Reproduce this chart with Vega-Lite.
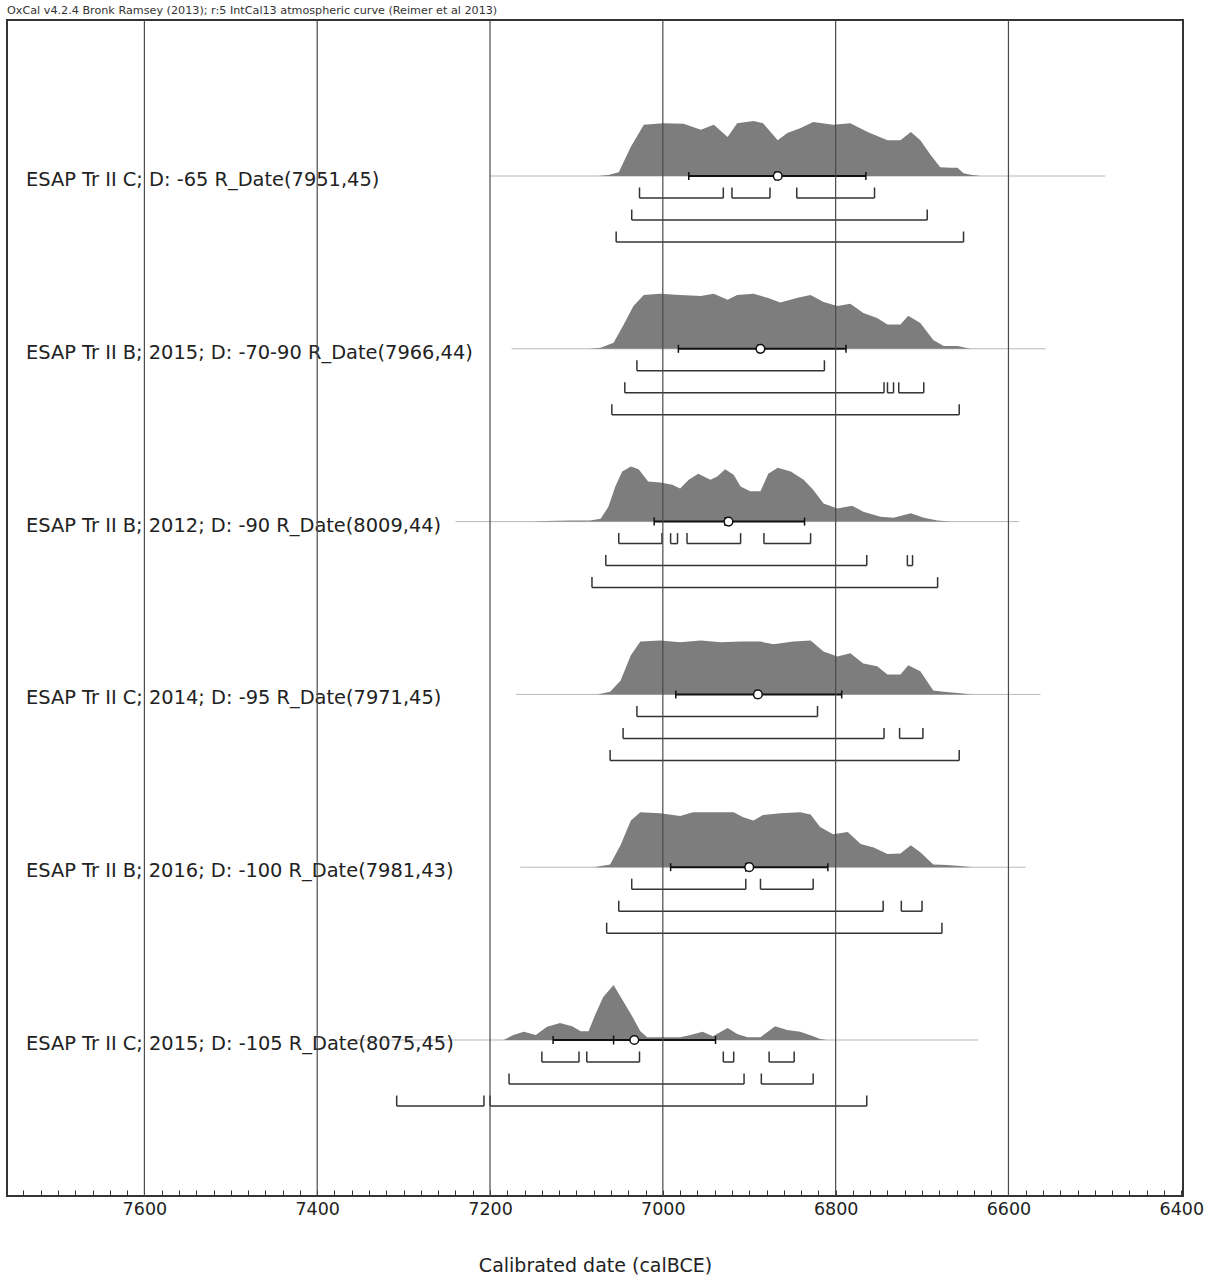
{
  "$schema": "https://vega.github.io/schema/vega-lite/v6.json",
  "width": 1176,
  "height": 1176,
  "autosize": {"type": "none"},
  "padding": {"left": 7, "top": 20, "right": 36, "bottom": 84},
  "background": "white",
  "title": {"text": "OxCal v4.2.4 Bronk Ramsey (2013); r:5 IntCal13 atmospheric curve (Reimer et al 2013)", "anchor": "start", "frame": "group", "font": "DejaVu Sans", "fontSize": 11.2, "fontWeight": "normal", "color": "#333", "offset": -8, "baseline": "bottom"},
  "config": {
    "view": {"stroke": "#333", "strokeWidth": 2},
    "font": "DejaVu Sans",
    "axisX": {"labelFont": "DejaVu Sans", "labelFontSize": 17.5, "labelColor": "#222", "labelBaseline": "top", "labelPadding": 10, "tickSize": -6, "tickColor": "#333", "tickWidth": 1, "domain": false, "grid": false, "titleFont": "DejaVu Sans", "titleFontSize": 19, "titleFontWeight": "normal", "titleColor": "#222", "titlePadding": 39, "labelOverlap": false, "labelBound": false, "labelFlush": false}
  },
  "datasets": {
    "grid": [{"year": 7600}, {"year": 7400}, {"year": 7200}, {"year": 7000}, {"year": 6800}, {"year": 6600}],
    "meta": [
      {"row": 1, "label": "ESAP Tr II C; D: -65 R_Date(7951,45)", "base_lo": 7200, "base_hi": 6488, "sig_lo": 6970, "sig_hi": 6765, "mean": 6867, "median": 6870},
      {"row": 2, "label": "ESAP Tr II B; 2015; D: -70-90 R_Date(7966,44)", "base_lo": 7175, "base_hi": 6557, "sig_lo": 6982, "sig_hi": 6788, "mean": 6887, "median": 6890},
      {"row": 3, "label": "ESAP Tr II B; 2012; D: -90 R_Date(8009,44)", "base_lo": 7240, "base_hi": 6588, "sig_lo": 7010, "sig_hi": 6836, "mean": 6924, "median": 6928},
      {"row": 4, "label": "ESAP Tr II C; 2014; D: -95 R_Date(7971,45)", "base_lo": 7170, "base_hi": 6563, "sig_lo": 6985, "sig_hi": 6793, "mean": 6890, "median": 6893},
      {"row": 5, "label": "ESAP Tr II B; 2016; D: -100 R_Date(7981,43)", "base_lo": 7165, "base_hi": 6580, "sig_lo": 6991, "sig_hi": 6809, "mean": 6900, "median": 6904},
      {"row": 6, "label": "ESAP Tr II C; 2015; D: -105 R_Date(8075,45)", "base_lo": 7360, "base_hi": 6635, "sig_lo": 7127, "sig_hi": 6939, "mean": 7033, "median": 7057}
    ],
    "ranges": [
      {"row": 1, "level": 1, "start": 7027, "end": 6930},
      {"row": 1, "level": 1, "start": 6920, "end": 6876},
      {"row": 1, "level": 1, "start": 6845, "end": 6755},
      {"row": 1, "level": 2, "start": 7036, "end": 6694},
      {"row": 1, "level": 3, "start": 7054, "end": 6652},
      {"row": 2, "level": 1, "start": 7030, "end": 6813},
      {"row": 2, "level": 2, "start": 7044, "end": 6744},
      {"row": 2, "level": 2, "start": 6740, "end": 6733},
      {"row": 2, "level": 2, "start": 6727, "end": 6698},
      {"row": 2, "level": 3, "start": 7059, "end": 6657},
      {"row": 3, "level": 1, "start": 7051, "end": 7001},
      {"row": 3, "level": 1, "start": 6991, "end": 6983},
      {"row": 3, "level": 1, "start": 6972, "end": 6910},
      {"row": 3, "level": 1, "start": 6883, "end": 6829},
      {"row": 3, "level": 2, "start": 7066, "end": 6764},
      {"row": 3, "level": 2, "start": 6717, "end": 6711},
      {"row": 3, "level": 3, "start": 7082, "end": 6682},
      {"row": 4, "level": 1, "start": 7030, "end": 6821},
      {"row": 4, "level": 2, "start": 7046, "end": 6744},
      {"row": 4, "level": 2, "start": 6726, "end": 6699},
      {"row": 4, "level": 3, "start": 7061, "end": 6657},
      {"row": 5, "level": 1, "start": 7036, "end": 6904},
      {"row": 5, "level": 1, "start": 6887, "end": 6826},
      {"row": 5, "level": 2, "start": 7051, "end": 6745},
      {"row": 5, "level": 2, "start": 6724, "end": 6700},
      {"row": 5, "level": 3, "start": 7065, "end": 6677},
      {"row": 6, "level": 1, "start": 7140, "end": 7097},
      {"row": 6, "level": 1, "start": 7088, "end": 7027},
      {"row": 6, "level": 1, "start": 6930, "end": 6918},
      {"row": 6, "level": 1, "start": 6877, "end": 6848},
      {"row": 6, "level": 2, "start": 7178, "end": 6906},
      {"row": 6, "level": 2, "start": 6886, "end": 6826},
      {"row": 6, "level": 3, "start": 7308, "end": 7207},
      {"row": 6, "level": 3, "start": 7200, "end": 6764}
    ],
    "dist": [
      {"row": 1, "year": 7075, "p": 0}, {"row": 1, "year": 7063, "p": 2}, {"row": 1, "year": 7051, "p": 7}, {"row": 1, "year": 7037, "p": 53}, {"row": 1, "year": 7022, "p": 93}, {"row": 1, "year": 7000, "p": 96}, {"row": 1, "year": 6976, "p": 95}, {"row": 1, "year": 6956, "p": 84}, {"row": 1, "year": 6941, "p": 93}, {"row": 1, "year": 6925, "p": 71}, {"row": 1, "year": 6914, "p": 96}, {"row": 1, "year": 6895, "p": 100}, {"row": 1, "year": 6884, "p": 96}, {"row": 1, "year": 6867, "p": 65}, {"row": 1, "year": 6856, "p": 78}, {"row": 1, "year": 6841, "p": 87}, {"row": 1, "year": 6826, "p": 98}, {"row": 1, "year": 6803, "p": 93}, {"row": 1, "year": 6783, "p": 96}, {"row": 1, "year": 6763, "p": 80}, {"row": 1, "year": 6740, "p": 65}, {"row": 1, "year": 6725, "p": 65}, {"row": 1, "year": 6713, "p": 80}, {"row": 1, "year": 6702, "p": 65}, {"row": 1, "year": 6690, "p": 38}, {"row": 1, "year": 6679, "p": 16}, {"row": 1, "year": 6667, "p": 15}, {"row": 1, "year": 6659, "p": 15}, {"row": 1, "year": 6652, "p": 5}, {"row": 1, "year": 6642, "p": 2}, {"row": 1, "year": 6632, "p": 0},
      {"row": 2, "year": 7085, "p": 0}, {"row": 2, "year": 7072, "p": 2}, {"row": 2, "year": 7057, "p": 11}, {"row": 2, "year": 7046, "p": 42}, {"row": 2, "year": 7034, "p": 78}, {"row": 2, "year": 7022, "p": 98}, {"row": 2, "year": 7003, "p": 100}, {"row": 2, "year": 6980, "p": 98}, {"row": 2, "year": 6956, "p": 96}, {"row": 2, "year": 6941, "p": 100}, {"row": 2, "year": 6925, "p": 89}, {"row": 2, "year": 6914, "p": 98}, {"row": 2, "year": 6895, "p": 100}, {"row": 2, "year": 6879, "p": 93}, {"row": 2, "year": 6864, "p": 84}, {"row": 2, "year": 6844, "p": 93}, {"row": 2, "year": 6829, "p": 98}, {"row": 2, "year": 6814, "p": 85}, {"row": 2, "year": 6798, "p": 78}, {"row": 2, "year": 6783, "p": 82}, {"row": 2, "year": 6768, "p": 65}, {"row": 2, "year": 6752, "p": 56}, {"row": 2, "year": 6740, "p": 44}, {"row": 2, "year": 6725, "p": 44}, {"row": 2, "year": 6716, "p": 60}, {"row": 2, "year": 6702, "p": 47}, {"row": 2, "year": 6687, "p": 16}, {"row": 2, "year": 6675, "p": 5}, {"row": 2, "year": 6659, "p": 5}, {"row": 2, "year": 6644, "p": 0},
      {"row": 3, "year": 7150, "p": 0}, {"row": 3, "year": 7136, "p": 1}, {"row": 3, "year": 7107, "p": 2}, {"row": 3, "year": 7084, "p": 2}, {"row": 3, "year": 7072, "p": 5}, {"row": 3, "year": 7063, "p": 27}, {"row": 3, "year": 7055, "p": 64}, {"row": 3, "year": 7047, "p": 91}, {"row": 3, "year": 7037, "p": 100}, {"row": 3, "year": 7028, "p": 95}, {"row": 3, "year": 7017, "p": 73}, {"row": 3, "year": 7003, "p": 71}, {"row": 3, "year": 6989, "p": 67}, {"row": 3, "year": 6980, "p": 60}, {"row": 3, "year": 6970, "p": 76}, {"row": 3, "year": 6959, "p": 87}, {"row": 3, "year": 6945, "p": 76}, {"row": 3, "year": 6937, "p": 82}, {"row": 3, "year": 6928, "p": 95}, {"row": 3, "year": 6918, "p": 85}, {"row": 3, "year": 6910, "p": 64}, {"row": 3, "year": 6899, "p": 55}, {"row": 3, "year": 6887, "p": 55}, {"row": 3, "year": 6878, "p": 87}, {"row": 3, "year": 6867, "p": 98}, {"row": 3, "year": 6852, "p": 91}, {"row": 3, "year": 6837, "p": 76}, {"row": 3, "year": 6826, "p": 58}, {"row": 3, "year": 6814, "p": 33}, {"row": 3, "year": 6798, "p": 24}, {"row": 3, "year": 6781, "p": 29}, {"row": 3, "year": 6768, "p": 18}, {"row": 3, "year": 6748, "p": 9}, {"row": 3, "year": 6733, "p": 7}, {"row": 3, "year": 6713, "p": 15}, {"row": 3, "year": 6698, "p": 7}, {"row": 3, "year": 6682, "p": 2}, {"row": 3, "year": 6667, "p": 0},
      {"row": 4, "year": 7076, "p": 0}, {"row": 4, "year": 7061, "p": 5}, {"row": 4, "year": 7049, "p": 25}, {"row": 4, "year": 7037, "p": 71}, {"row": 4, "year": 7026, "p": 96}, {"row": 4, "year": 7003, "p": 98}, {"row": 4, "year": 6980, "p": 95}, {"row": 4, "year": 6956, "p": 98}, {"row": 4, "year": 6933, "p": 95}, {"row": 4, "year": 6910, "p": 96}, {"row": 4, "year": 6887, "p": 96}, {"row": 4, "year": 6872, "p": 91}, {"row": 4, "year": 6849, "p": 96}, {"row": 4, "year": 6829, "p": 98}, {"row": 4, "year": 6814, "p": 78}, {"row": 4, "year": 6798, "p": 69}, {"row": 4, "year": 6783, "p": 75}, {"row": 4, "year": 6768, "p": 56}, {"row": 4, "year": 6752, "p": 51}, {"row": 4, "year": 6740, "p": 36}, {"row": 4, "year": 6725, "p": 36}, {"row": 4, "year": 6716, "p": 53}, {"row": 4, "year": 6702, "p": 42}, {"row": 4, "year": 6687, "p": 7}, {"row": 4, "year": 6675, "p": 5}, {"row": 4, "year": 6656, "p": 2}, {"row": 4, "year": 6642, "p": 0},
      {"row": 5, "year": 7080, "p": 0}, {"row": 5, "year": 7061, "p": 5}, {"row": 5, "year": 7049, "p": 40}, {"row": 5, "year": 7037, "p": 85}, {"row": 5, "year": 7026, "p": 100}, {"row": 5, "year": 7003, "p": 98}, {"row": 5, "year": 6980, "p": 93}, {"row": 5, "year": 6965, "p": 100}, {"row": 5, "year": 6941, "p": 100}, {"row": 5, "year": 6918, "p": 100}, {"row": 5, "year": 6907, "p": 91}, {"row": 5, "year": 6895, "p": 85}, {"row": 5, "year": 6884, "p": 95}, {"row": 5, "year": 6864, "p": 98}, {"row": 5, "year": 6841, "p": 100}, {"row": 5, "year": 6829, "p": 96}, {"row": 5, "year": 6818, "p": 73}, {"row": 5, "year": 6803, "p": 60}, {"row": 5, "year": 6786, "p": 64}, {"row": 5, "year": 6771, "p": 42}, {"row": 5, "year": 6756, "p": 36}, {"row": 5, "year": 6740, "p": 24}, {"row": 5, "year": 6725, "p": 25}, {"row": 5, "year": 6713, "p": 40}, {"row": 5, "year": 6702, "p": 27}, {"row": 5, "year": 6687, "p": 5}, {"row": 5, "year": 6671, "p": 4}, {"row": 5, "year": 6656, "p": 2}, {"row": 5, "year": 6641, "p": 0},
      {"row": 6, "year": 7184, "p": 0}, {"row": 6, "year": 7173, "p": 9}, {"row": 6, "year": 7161, "p": 15}, {"row": 6, "year": 7147, "p": 9}, {"row": 6, "year": 7134, "p": 24}, {"row": 6, "year": 7119, "p": 31}, {"row": 6, "year": 7105, "p": 25}, {"row": 6, "year": 7095, "p": 16}, {"row": 6, "year": 7086, "p": 16}, {"row": 6, "year": 7078, "p": 47}, {"row": 6, "year": 7069, "p": 78}, {"row": 6, "year": 7057, "p": 100}, {"row": 6, "year": 7046, "p": 71}, {"row": 6, "year": 7035, "p": 42}, {"row": 6, "year": 7026, "p": 16}, {"row": 6, "year": 7018, "p": 5}, {"row": 6, "year": 7003, "p": 5}, {"row": 6, "year": 6980, "p": 5}, {"row": 6, "year": 6968, "p": 9}, {"row": 6, "year": 6954, "p": 15}, {"row": 6, "year": 6942, "p": 7}, {"row": 6, "year": 6925, "p": 22}, {"row": 6, "year": 6914, "p": 11}, {"row": 6, "year": 6902, "p": 5}, {"row": 6, "year": 6887, "p": 5}, {"row": 6, "year": 6870, "p": 25}, {"row": 6, "year": 6856, "p": 18}, {"row": 6, "year": 6841, "p": 15}, {"row": 6, "year": 6826, "p": 7}, {"row": 6, "year": 6818, "p": 2}, {"row": 6, "year": 6810, "p": 0}
    ]
  },
  "resolve": {"scale": {"y": "independent"}},
  "layer": [
    {
      "data": {"name": "meta"},
      "mark": {"type": "rule", "color": "#b8b8b8", "strokeWidth": 1},
      "encoding": {
        "x": {"field": "base_lo", "type": "quantitative", "scale": {"domain": [6398, 7759], "reverse": true, "nice": false, "zero": false},
          "axis": {"title": "Calibrated date (calBCE)", "tickCount": 68, "format": "d", "labelExpr": "datum.value % 200 === 0 ? datum.label : ''"}},
        "x2": {"field": "base_hi"},
        "y": {"field": "row", "type": "quantitative", "scale": {"domain": [0.0972, 6.9028], "reverse": true, "nice": false, "zero": false}, "axis": null}
      }
    },
    {
      "data": {"name": "dist"}, "transform": [{"filter": "datum.row === 1"}],
      "mark": {"type": "area", "color": "#7d7d7d", "opacity": 1},
      "encoding": {
        "x": {"field": "year", "type": "quantitative", "axis": {"title": "Calibrated date (calBCE)", "tickCount": 68, "format": "d", "labelExpr": "datum.value % 200 === 0 ? datum.label : ''"}},
        "y": {"field": "p", "type": "quantitative", "stack": null, "scale": {"domain": [-1854.5, 283.6], "nice": false, "zero": false}, "axis": null},
        "y2": {"datum": 0}
      }
    },
    {
      "data": {"name": "dist"}, "transform": [{"filter": "datum.row === 2"}],
      "mark": {"type": "area", "color": "#7d7d7d", "opacity": 1},
      "encoding": {
        "x": {"field": "year", "type": "quantitative", "axis": {"title": "Calibrated date (calBCE)", "tickCount": 68, "format": "d", "labelExpr": "datum.value % 200 === 0 ? datum.label : ''"}},
        "y": {"field": "p", "type": "quantitative", "stack": null, "scale": {"domain": [-1540.4, 597.8], "nice": false, "zero": false}, "axis": null},
        "y2": {"datum": 0}
      }
    },
    {
      "data": {"name": "dist"}, "transform": [{"filter": "datum.row === 3"}],
      "mark": {"type": "area", "color": "#7d7d7d", "opacity": 1},
      "encoding": {
        "x": {"field": "year", "type": "quantitative", "axis": {"title": "Calibrated date (calBCE)", "tickCount": 68, "format": "d", "labelExpr": "datum.value % 200 === 0 ? datum.label : ''"}},
        "y": {"field": "p", "type": "quantitative", "stack": null, "scale": {"domain": [-1226.2, 912.0], "nice": false, "zero": false}, "axis": null},
        "y2": {"datum": 0}
      }
    },
    {
      "data": {"name": "dist"}, "transform": [{"filter": "datum.row === 4"}],
      "mark": {"type": "area", "color": "#7d7d7d", "opacity": 1},
      "encoding": {
        "x": {"field": "year", "type": "quantitative", "axis": {"title": "Calibrated date (calBCE)", "tickCount": 68, "format": "d", "labelExpr": "datum.value % 200 === 0 ? datum.label : ''"}},
        "y": {"field": "p", "type": "quantitative", "stack": null, "scale": {"domain": [-912.0, 1226.2], "nice": false, "zero": false}, "axis": null},
        "y2": {"datum": 0}
      }
    },
    {
      "data": {"name": "dist"}, "transform": [{"filter": "datum.row === 5"}],
      "mark": {"type": "area", "color": "#7d7d7d", "opacity": 1},
      "encoding": {
        "x": {"field": "year", "type": "quantitative", "axis": {"title": "Calibrated date (calBCE)", "tickCount": 68, "format": "d", "labelExpr": "datum.value % 200 === 0 ? datum.label : ''"}},
        "y": {"field": "p", "type": "quantitative", "stack": null, "scale": {"domain": [-597.8, 1540.4], "nice": false, "zero": false}, "axis": null},
        "y2": {"datum": 0}
      }
    },
    {
      "data": {"name": "dist"}, "transform": [{"filter": "datum.row === 6"}],
      "mark": {"type": "area", "color": "#7d7d7d", "opacity": 1},
      "encoding": {
        "x": {"field": "year", "type": "quantitative", "axis": {"title": "Calibrated date (calBCE)", "tickCount": 68, "format": "d", "labelExpr": "datum.value % 200 === 0 ? datum.label : ''"}},
        "y": {"field": "p", "type": "quantitative", "stack": null, "scale": {"domain": [-283.6, 1854.5], "nice": false, "zero": false}, "axis": null},
        "y2": {"datum": 0}
      }
    },
    {
      "data": {"name": "meta"},
      "mark": {"type": "text", "align": "left", "baseline": "alphabetic", "dy": 10, "font": "DejaVu Sans", "fontSize": 19.4, "color": "#222"},
      "encoding": {
        "x": {"datum": 7737, "type": "quantitative", "axis": {"title": "Calibrated date (calBCE)", "tickCount": 68, "format": "d", "labelExpr": "datum.value % 200 === 0 ? datum.label : ''"}},
        "y": {"field": "row", "type": "quantitative", "scale": {"domain": [0.0972, 6.9028], "reverse": true, "nice": false, "zero": false}, "axis": null},
        "text": {"field": "label"}
      }
    },
    {
      "data": {"name": "meta"},
      "encoding": {
        "y": {"field": "row", "type": "quantitative", "scale": {"domain": [0.0972, 6.9028], "reverse": true, "nice": false, "zero": false}, "axis": null}
      },
      "layer": [
        {
          "mark": {"type": "rule", "color": "#111", "strokeWidth": 2},
          "encoding": {
            "x": {"field": "sig_lo", "type": "quantitative", "axis": {"title": "Calibrated date (calBCE)", "tickCount": 68, "format": "d", "labelExpr": "datum.value % 200 === 0 ? datum.label : ''"}},
            "x2": {"field": "sig_hi"}
          }
        },
        {
          "transform": [{"fold": ["sig_lo", "sig_hi"], "as": ["side", "sx"]}],
          "mark": {"type": "point", "shape": "M0,-1L0,1", "size": 64, "filled": false, "stroke": "#111", "strokeWidth": 1.5, "opacity": 1},
          "encoding": {
            "x": {"field": "sx", "type": "quantitative", "axis": {"title": "Calibrated date (calBCE)", "tickCount": 68, "format": "d", "labelExpr": "datum.value % 200 === 0 ? datum.label : ''"}}
          }
        },
        {
          "mark": {"type": "point", "shape": "M0,-1L0,1", "size": 81, "filled": false, "stroke": "#111", "strokeWidth": 1.5, "opacity": 1},
          "encoding": {
            "x": {"field": "median", "type": "quantitative", "axis": {"title": "Calibrated date (calBCE)", "tickCount": 68, "format": "d", "labelExpr": "datum.value % 200 === 0 ? datum.label : ''"}}
          }
        },
        {
          "mark": {"type": "point", "shape": "circle", "size": 75, "filled": true, "fill": "white", "stroke": "#111", "strokeWidth": 1.5, "opacity": 1},
          "encoding": {
            "x": {"field": "mean", "type": "quantitative", "axis": {"title": "Calibrated date (calBCE)", "tickCount": 68, "format": "d", "labelExpr": "datum.value % 200 === 0 ? datum.label : ''"}}
          }
        }
      ]
    },
    {
      "data": {"name": "ranges"}, "transform": [{"filter": "datum.level === 1"}],
      "encoding": {
        "y": {"field": "row", "type": "quantitative", "scale": {"domain": [-0.0301, 6.7755], "reverse": true, "nice": false, "zero": false}, "axis": null}
      },
      "layer": [
        {
          "mark": {"type": "rule", "color": "#333", "strokeWidth": 1.5},
          "encoding": {"x": {"field": "start", "type": "quantitative", "axis": {"title": "Calibrated date (calBCE)", "tickCount": 68, "format": "d", "labelExpr": "datum.value % 200 === 0 ? datum.label : ''"}}, "x2": {"field": "end"}}
        },
        {
          "transform": [{"fold": ["start", "end"], "as": ["side", "bx"]}],
          "mark": {"type": "point", "shape": "M0,0L0,-2", "size": 110, "filled": false, "stroke": "#333", "strokeWidth": 1.5, "opacity": 1},
          "encoding": {"x": {"field": "bx", "type": "quantitative", "axis": {"title": "Calibrated date (calBCE)", "tickCount": 68, "format": "d", "labelExpr": "datum.value % 200 === 0 ? datum.label : ''"}}}
        }
      ]
    },
    {
      "data": {"name": "ranges"}, "transform": [{"filter": "datum.level === 2"}],
      "encoding": {
        "y": {"field": "row", "type": "quantitative", "scale": {"domain": [-0.1574, 6.6482], "reverse": true, "nice": false, "zero": false}, "axis": null}
      },
      "layer": [
        {
          "mark": {"type": "rule", "color": "#333", "strokeWidth": 1.5},
          "encoding": {"x": {"field": "start", "type": "quantitative", "axis": {"title": "Calibrated date (calBCE)", "tickCount": 68, "format": "d", "labelExpr": "datum.value % 200 === 0 ? datum.label : ''"}}, "x2": {"field": "end"}}
        },
        {
          "transform": [{"fold": ["start", "end"], "as": ["side", "bx"]}],
          "mark": {"type": "point", "shape": "M0,0L0,-2", "size": 110, "filled": false, "stroke": "#333", "strokeWidth": 1.5, "opacity": 1},
          "encoding": {"x": {"field": "bx", "type": "quantitative", "axis": {"title": "Calibrated date (calBCE)", "tickCount": 68, "format": "d", "labelExpr": "datum.value % 200 === 0 ? datum.label : ''"}}}
        }
      ]
    },
    {
      "data": {"name": "ranges"}, "transform": [{"filter": "datum.level === 3"}],
      "encoding": {
        "y": {"field": "row", "type": "quantitative", "scale": {"domain": [-0.2847, 6.5209], "reverse": true, "nice": false, "zero": false}, "axis": null}
      },
      "layer": [
        {
          "mark": {"type": "rule", "color": "#333", "strokeWidth": 1.5},
          "encoding": {"x": {"field": "start", "type": "quantitative", "axis": {"title": "Calibrated date (calBCE)", "tickCount": 68, "format": "d", "labelExpr": "datum.value % 200 === 0 ? datum.label : ''"}}, "x2": {"field": "end"}}
        },
        {
          "transform": [{"fold": ["start", "end"], "as": ["side", "bx"]}],
          "mark": {"type": "point", "shape": "M0,0L0,-2", "size": 110, "filled": false, "stroke": "#333", "strokeWidth": 1.5, "opacity": 1},
          "encoding": {"x": {"field": "bx", "type": "quantitative", "axis": {"title": "Calibrated date (calBCE)", "tickCount": 68, "format": "d", "labelExpr": "datum.value % 200 === 0 ? datum.label : ''"}}}
        }
      ]
    },
    {
      "data": {"name": "grid"},
      "mark": {"type": "rule", "color": "#4a4a4a", "strokeWidth": 1.2},
      "encoding": {
        "x": {"field": "year", "type": "quantitative", "axis": {"title": "Calibrated date (calBCE)", "tickCount": 68, "format": "d", "labelExpr": "datum.value % 200 === 0 ? datum.label : ''"}}
      }
    }
  ]
}
